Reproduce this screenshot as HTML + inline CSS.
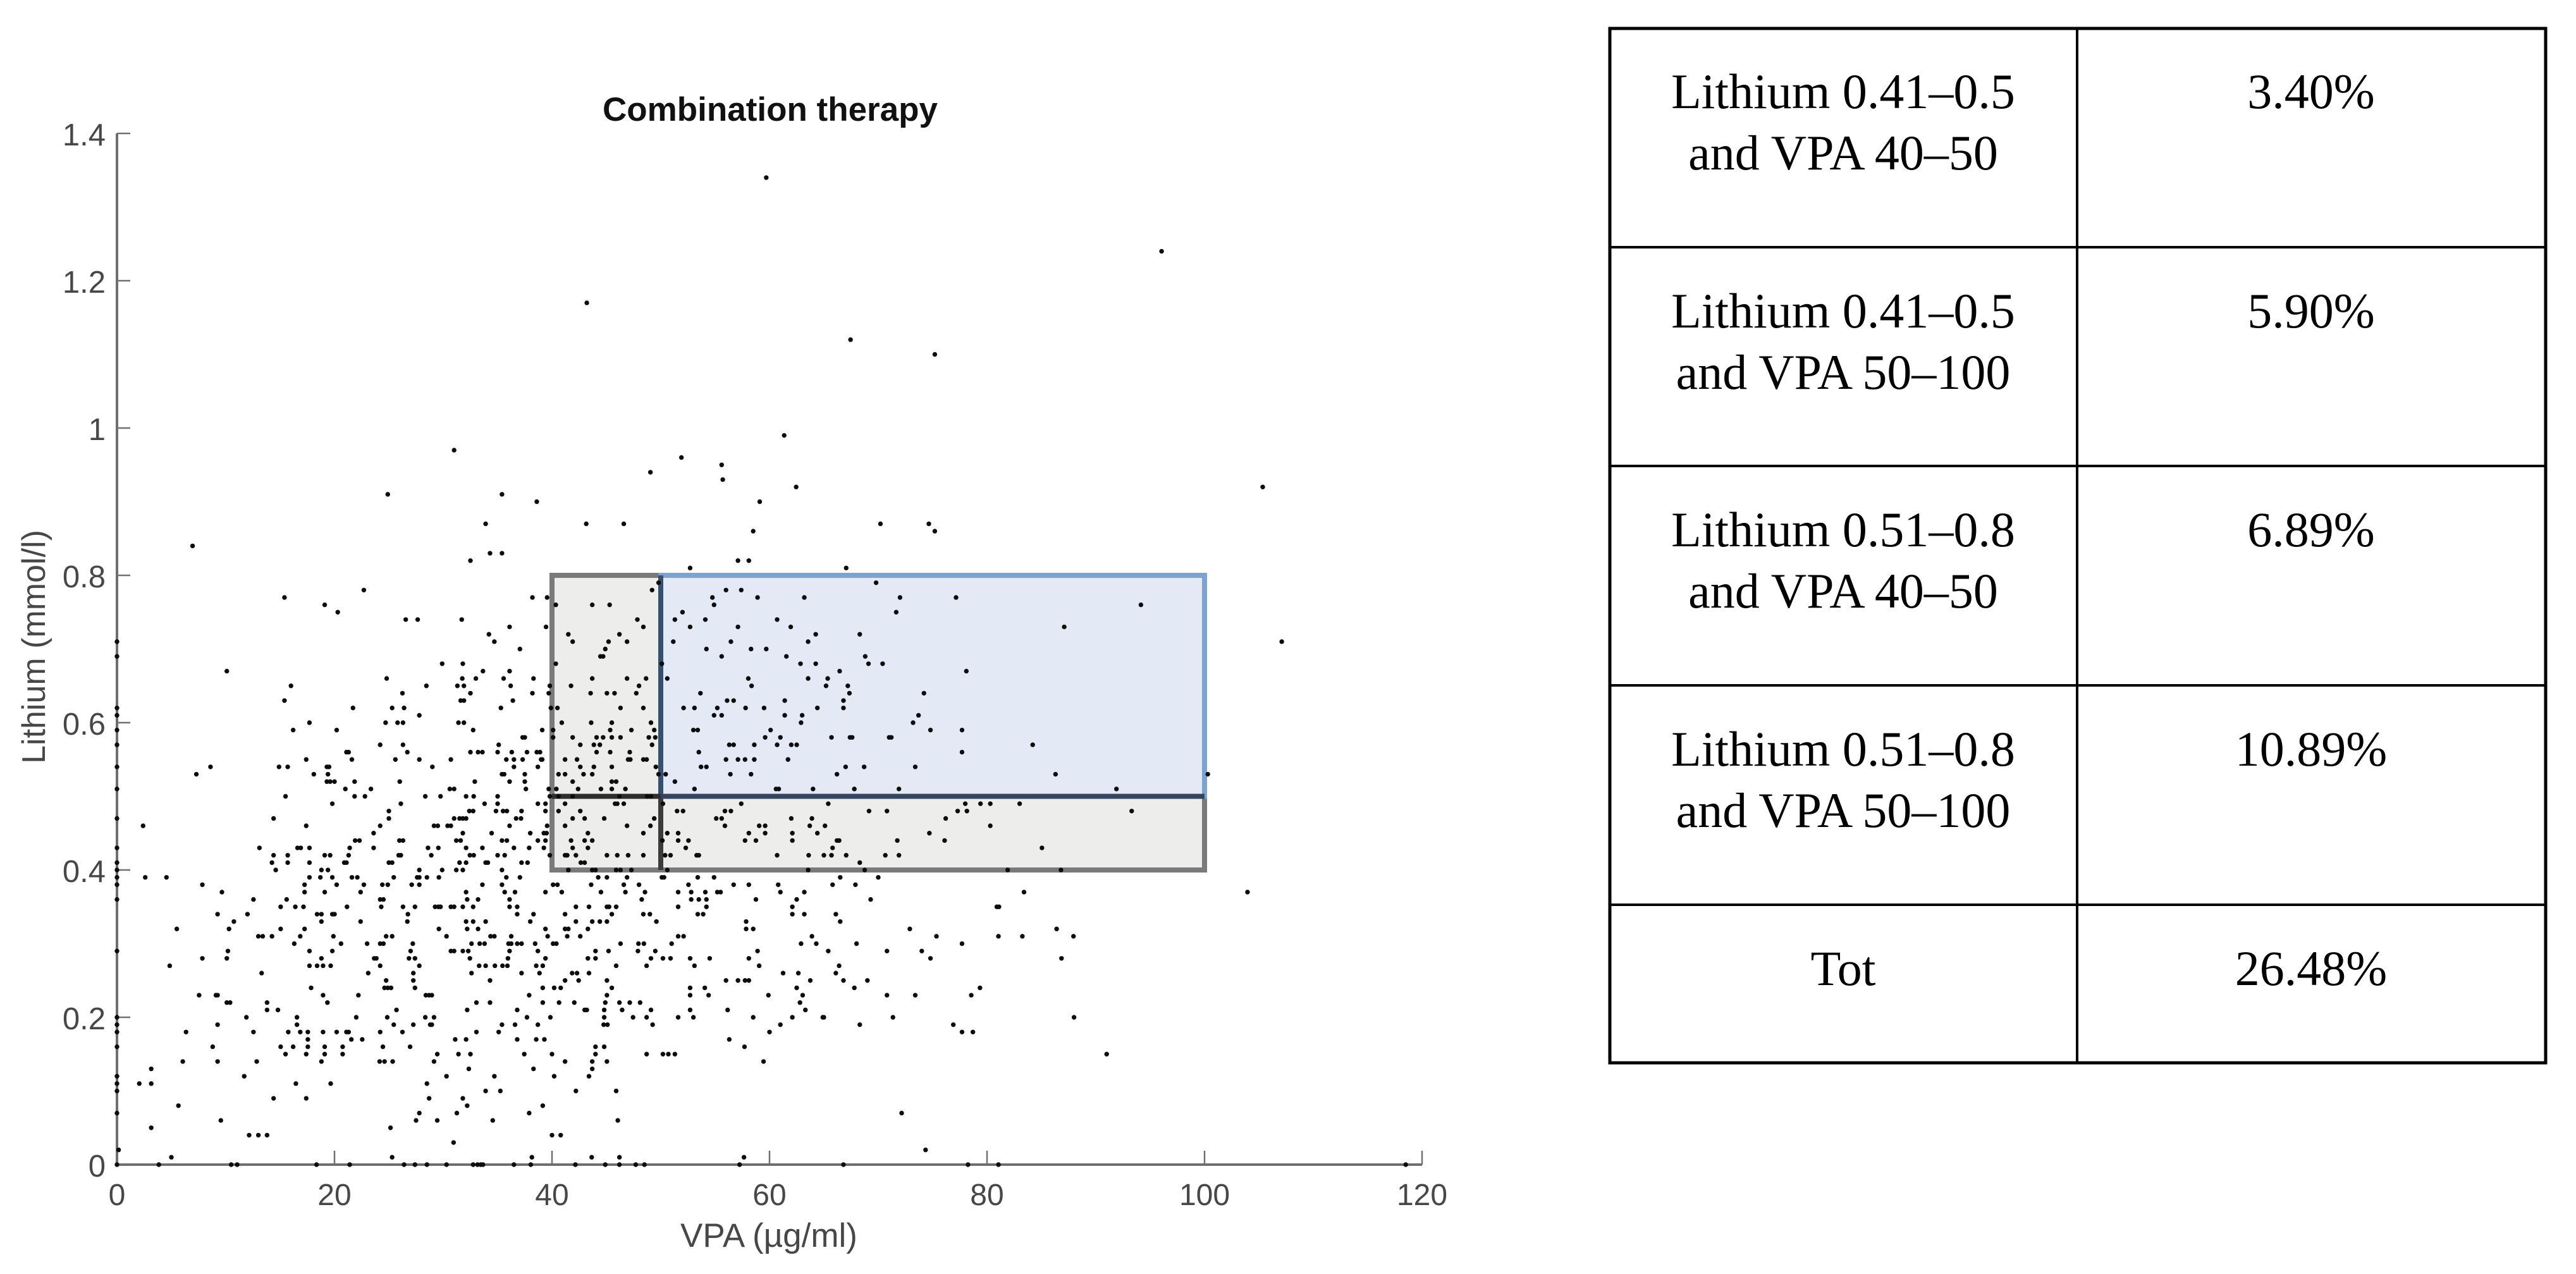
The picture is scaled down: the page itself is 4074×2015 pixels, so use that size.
<!DOCTYPE html>
<html lang="en">
<head>
<meta charset="utf-8">
<title>Combination therapy</title>
<style>
html,body{margin:0;padding:0;background:#fff;width:4074px;height:2015px;overflow:hidden}
svg{display:block}
.axis-text{font-family:"Liberation Sans",Arial,sans-serif;fill:#474747}
.table-text{font-family:"Liberation Serif","Times New Roman",serif;font-size:78px;fill:#000;text-anchor:middle}
</style>
</head>
<body>
<svg id="figure" xmlns="http://www.w3.org/2000/svg" width="4074" height="2015" viewBox="0 0 4074 2015">
  <g id="chart"></g>
  <g>
    <g stroke="#000" fill="none">
      <rect x="2546" y="45" width="1480" height="1636" stroke-width="5"/>
      <line x1="3285" y1="45" x2="3285" y2="1681" stroke-width="4"/>
      <line x1="2546" y1="391" x2="4026" y2="391" stroke-width="4"/>
      <line x1="2546" y1="737" x2="4026" y2="737" stroke-width="4"/>
      <line x1="2546" y1="1084" x2="4026" y2="1084" stroke-width="4"/>
      <line x1="2546" y1="1431" x2="4026" y2="1431" stroke-width="4"/>
    </g>
    <text class="table-text" x="2915" y="171">Lithium 0.41–0.5</text>
    <text class="table-text" x="2915" y="268">and VPA 40–50</text>
    <text class="table-text" x="3655" y="171">3.40%</text>
    <text class="table-text" x="2915" y="518">Lithium 0.41–0.5</text>
    <text class="table-text" x="2915" y="615">and VPA 50–100</text>
    <text class="table-text" x="3655" y="518">5.90%</text>
    <text class="table-text" x="2915" y="864">Lithium 0.51–0.8</text>
    <text class="table-text" x="2915" y="961">and VPA 40–50</text>
    <text class="table-text" x="3655" y="864">6.89%</text>
    <text class="table-text" x="2915" y="1211">Lithium 0.51–0.8</text>
    <text class="table-text" x="2915" y="1308">and VPA 50–100</text>
    <text class="table-text" x="3655" y="1211">10.89%</text>
    <text class="table-text" x="2915" y="1558">Tot</text>
    <text class="table-text" x="3655" y="1558">26.48%</text>
  </g>
</svg>
<script>
const xTicks = [0, 20, 40, 60, 80, 100, 120];
const yTicks = [0, 0.2, 0.4, 0.6, 0.8, 1, 1.2, 1.4];
const yTickLabels = ['0', '0.2', '0.4', '0.6', '0.8', '1', '1.2', '1.4'];
const greyRegion = [40, 100, 0.4, 0.8];
const blueRegion = [50, 100, 0.5, 0.8];
const lithiumLevels = [
 0,0.01,0.02,0.03,0.04,0.05,0.06,0.07,0.08,0.09,
 0.10,0.11,0.12,0.13,0.14,0.15,0.16,0.17,0.18,0.19,
 0.20,0.21,0.22,0.23,0.24,0.25,0.26,0.27,0.28,0.29,
 0.30,0.31,0.32,0.33,0.34,0.35,0.36,0.37,0.38,0.39,
 0.40,0.41,0.42,0.43,0.44,0.45,0.46,0.47,0.48,0.49,
 0.50,0.51,0.52,0.53,0.54,0.55,0.56,0.57,0.58,0.59,
 0.60,0.61,0.62,0.63,0.64,0.65,0.66,0.67,0.68,0.69,
 0.70,0.71,0.72,0.73,0.74,0.75,0.76,0.77,0.78,0.79,
 0.81,0.82,0.83,0.84,0.86,0.87,0.90,0.91,0.92,0.93,
 0.94,0.95,0.96,0.97,0.99,1.10,1.12,1.17,1.24,1.34
];
const vpaByLevel = [
 [0,3.85,10.5,11.05,18.35,21.4,26.4,27.4,28.5,30.3,32.75,33.15,33.45,33.65,36.5,38.05,42.15,44.9,46.2,47.7,48.5,57.25,66.8,78.25,81.05,118.5],
 [5,25.3,38.15,43.65,46.2,57.65],
 [0.15,74.35],
 [30.95],
 [12.15,13,13.8,40,40.8],
 [3.15,25.15],
 [9.55,27.5,29.45,34.55,46.05],
 [0,27.8,31.25,37.9,72.15],
 [5.65,32.2,39.15],
 [14.4,17.4,28.7,31.8],
 [0,33.9,35.25,42.2,45.9],
 [0,2.05,3.15,16.45,19.65,28.5],
 [0,11.7,30.3,34.7,40.2,43.4],
 [3.15,32.35,38.3,43.7],
 [6.05,9.25,12.85,18.8,24.15,24.6,25.35,29.15,41.2,43.7,45.05,59.45],
 [15.5,17.4,19.1,20.75,29.45,31.4,32.5,37.45,40,44,48.7,50.2,50.7,51.3,91],
 [0,8.8,15.05,16.2,17.55,19.1,20.75,24.45,26.95,44,44.8,57.7],
 [17.55,21.55,22.55,31.1,32.1,36.8,38.55,39.3,56.3],
 [0,6.35,12.55,15.75,16.85,17.55,18.95,20.2,21.1,21.3,24.2,26.25,33.05,35.1,60,77.7,78.7],
 [0,9.25,16.55,25.45,27.25,28.8,28.95,35.4,36.6,38.7,44.75,45.1,49.25,61,68.3,76.9],
 [0,11.9,16.55,22,24.85,28.35,29.15,37.7,39.85,44.8,47.45,48.7,51.6,53,58.5,62.1,64.9,65,71.35,88],
 [13.8,14.8,25.7,32.2,36.8,43,43.2,44.8,46.45,49.1,52.7,56.15,63.3],
 [10.1,10.4,13.8,19.35,33.05,34.3,39.15,40.65,42.05,44.9,46.2,47.15,48.1,62.8],
 [7.55,9.1,9.25,18.95,22.2,28.4,28.7,28.95,37.9,45.05,52.7,54.4,59.9,63.05,70.8,73.4,78.55],
 [17.85,24.6,24.9,25.2,27.4,39.15,40.2,40.8,45.5,52.7,54.05,62.5,67.8,79.35],
 [24.75,27.25,34.3,41.2,42.45,45.05,56,57.1,57.75,58.1,63.75,66.8,69],
 [13.3,23.1,27.25,32.6,37.2,38.85,41.85,42.3,43.4,61.25,62.65,66.1],
 [4.85,17.7,18.4,18.95,19.65,24.2,27.8,33.3,33.9,34.75,35.45,35.9,38.55,39.15,45.9,48.7,53.1,59.05,66.4],
 [7.85,10.1,18.8,23.65,23.85,26.85,27.4,32.45,35.95,39.4,43.3,44,49.1,50.2,50.9,52.7,54.5,58.1,74.8,86.85],
 [0,10.2,17.7,19.8,27,30.7,31,31.8,32.3,36.1,38.7,44,45.2,47.9,49.5,58.9,65.4,70.8,74],
 [16.3,20.6,23,24.2,24.5,27.2,32.6,33.35,33.8,36,36.25,36.8,37.2,38.45,40.1,40.4,46.3,47.95,48.45,51,62.9,64.3,68,77.7],
 [13,13.4,14.25,16.85,19.9,24.75,25.3,30.3,34.35,34.7,36.25,39.6,41.4,42.6,51.6,52.1,63.9,75.35,81.05,83.25,87.95],
 [5.5,10.3,15.05,17.25,29.6,32.2,33.2,39.4,41.2,41.5,43.3,57.85,58.5,72.9,86.4],
 [10.75,18.8,22.4,26.7,32.1,32.75,33.9,38,42.2,43.7,44.4,45.05,49.6,57.85,66.5],
 [9.25,12,18.4,18.8,19.8,20,26.75,36.8,38.3,41.2,45.5,48.4,49,53.4,53.9,62.1,63.2,66.1],
 [15.05,16.4,17.15,21.15,24.3,26.3,27.4,29.25,29.55,29.75,30.7,31,31.8,32.75,36.1,36.8,42.2,43.4,45.05,45.25,45.9,51.6,54.2,62.1,80.9,81.1],
 [0,12.55,15.6,24.2,24.5,32.2,33.2,36.1,48.25,52.8,53.5,54.2,58.75,62.5,69.3],
 [9.65,17.25,19.1,22.4,32.1,35.65,36.6,39.4,40.9,44.5,46.75,48.55,51.6,52.8,54.1,55.2,55.5,61,63.2,83.4,103.95],
 [0,7.85,17.25,20.2,22.7,24.4,24.9,27.1,27.8,33.6,35.4,40.1,40.5,43.6,46.6,48,52.55,56.7,58.1,60.8,65.8,67.9],
 [0,2.6,4.55,17.7,18.7,19.8,21.6,22.1,25.45,27.6,27.8,28.5,29.6,35.8,37.05,44.25,45.05,46.9,50.1,50.3,53.4,54.9,66.5,70],
 [0,14.6,18.8,19.4,27.8,29.9,31.2,31.8,35.4,41.5,43.7,44,45.9,46.3,47.3,50.6,63.55,68.75,81.9,86.8],
 [0,14.25,15.7,17.7,20.9,21.1,25,25.3,31.5,32.1,33.9,34.1,37.2,37.75,42.65,43,68.3],
 [14.4,15.7,19.1,19.6,21.3,25.9,26.1,28.9,32.45,32.8,35,35.65,39.8,41.2,41.4,42.2,45.05,46,47,48.4,50.4,50.9,53.3,53.5,60.7,63.6,65,65.7,67.05,70.65,71.9],
 [0,13.1,16.6,16.9,17.7,21.4,23.6,28.6,29.55,32.1,33.6,36.5,37.9,39.25,41.9,43.3,52.3,65.8,85.05],
 [21.9,22.3,25.97,26.3,31.2,31.6,35.4,35.85,38.7,39.4,41.75,43,43.7,50.15,51.6,52.55,57.75,58.75,62.1,66.2,66.4,71.75,76.1],
 [23.6,31.8,34.45,38,39.25,39.5,43.3,48.4,50.6,51.6,58.1,59.6,62.1,64.4,74.7],
 [2.4,17.4,24.2,29.15,29.5,30.4,30.7,36.1,39.55,41.2,46.9,49.05,55.9,59.05,59.6,63.7,65.1,80.3],
 [0,14.4,25,31,31.5,31.8,32.1,36.7,37.15,41.9,43,44.8,49.4,55.1,55.6,62,63.9,76.2],
 [25,32.4,32.75,34.85,35.5,35.85,37.2,39.4,40.6,42.6,51.5,52.05,55.9,56.45,69.15,70.8,77.3,78.15,93.3],
 [19.8,26.1,33.8,35,38.7,39.4,41.2,45.8,46,46.6,50.2,57.4,65.4,78,79.4,80.3,83],
 [15.5,21.85,22.8,28.35,29.75,32.1,32.8,35,39.8,40.6,41.9,46.2,48.75,49.1],
 [0,21,23.35,30.6,31,37.6,39.7,40.4,42.4,44.5,45.5,46.75,53.1,60.6,60.85,64,67.8,71.9,91.9],
 [19.3,19.6,20,21.85,26,32.9,36.1,37.5,41.9,45.5,45.9,51.3],
 [7.3,18.1,19.4,35.4,35.6,37.5,40.6,41.2,42.9,43.7,49.8,50.45,56.4,58.3,66.2,86.3,100.3],
 [0,8.6,14.9,15.7,19.3,19.5,29,36.5,38.7,42.6,43.85,45.5,49.55,53.7,54.2,67,68.7,73.4],
 [17.4,21.6,25.6,27.8,30.7,35.8,36.5,37.3,39,39.1,41.2,42.3,47,47.2,48.4,48.7,56,57.1,57.75,58.6,61.7],
 [21.1,21.3,26.7,32.5,33.2,33.6,35,36.3,37.7,38.6,38.9,44.1,45.35,47.15,53.5,77.7],
 [0,24.2,26.3,35.1,42.6,43.85,44.4,49.2,56.3,56.7,58.6,60.7,62,62.5,84.2],
 [37.3,37.5,40.1,41.9,44.1,44.7,45.5,46.3,48.9,49.5,59.6,61,65.7,67.4,67.6,71,71.2],
 [0,16.2,20.2,32.75,39.1,40.1,45.35,47.3,49.4,53,53.4,60.1,74.8,77.7],
 [17.7,24.7,25.8,26.3,31.4,31.9,40.9,43.6,45.5,49.1,62.9,73.2],
 [0,27.8,54.9,55.6,61.4,63,73.7],
 [0,21.7,25.3,26.4,35.3,39.9,40.5,46.3,48.4,52.1,53.1,55.2,57.8,59.5,64.4,66.8],
 [15.4,31.6,31.9,36.4,56.1,56.7,61.4,66.8],
 [26.25,32.5,38.2,39.7,43.55,45.05,45.75,47.75,53.65,67.35,74.2],
 [16,28.45,31.3,31.9,36.2,39.8,41.75,48,58.35,65.2,67.2],
 [24.8,31.75,33,35.55,38.3,43.7,46.9,48.65,50.6,58.05,63.55,65.35],
 [10.1,33.65,36.1,66.45,78.1],
 [29.9,31.8,40.35,50.1,62.85,64.25,69.1,70.4],
 [0,44.45,44.7,55.6,61.55,68.8],
 [37.05,44.9,54.2,58.3,59.7],
 [0,34.7,41.9,45.2,46.9,51.15,56.45,63.55,107.1],
 [34.2,41.5,46.2,64.25,68.3],
 [36.1,39.45,48.4,52.7,57.1,61.95,87.1],
 [26.55,27.65,31.7,47.85,51.3,54.1,60.7],
 [20.3,52,71.65],
 [19.1,40.35,43.7,45.3,54.9,94.15],
 [15.4,38.2,39.55,54.75,58.9,63.2,72,77.15],
 [22.7,49.2,56,57.4],
 [49.8,69.8],
 [52.7,67.05],
 [32.5,57.1,58.1],
 [34.3,35.4],
 [6.95],
 [58.5,75.2],
 [33.9,43.15,46.6,70.2,74.65],
 [38.6,59.1],
 [24.9,35.4],
 [62.45,105.35],
 [55.7],
 [49.05],
 [55.6],
 [51.9],
 [31],
 [61.35],
 [75.2],
 [67.45],
 [43.2],
 [96.05],
 [59.7]
];

const NS = 'http://www.w3.org/2000/svg';
const chart = document.getElementById('chart');
const xScale = function (v) { return 185 + v * 17.2; };
const yScale = function (v) { return 1842 - v * 1165; };

function make(tag, attrs, parent) {
  const el = document.createElementNS(NS, tag);
  Object.keys(attrs).forEach(function (k) { el.setAttribute(k, attrs[k]); });
  (parent || chart).appendChild(el);
  return el;
}

/* threshold regions */
const greyRect = make('rect', {
  x: xScale(greyRegion[0]), y: yScale(greyRegion[3]),
  width: xScale(greyRegion[1]) - xScale(greyRegion[0]),
  height: yScale(greyRegion[2]) - yScale(greyRegion[3]),
  fill: '#ededec', stroke: '#7a7a7a', 'stroke-width': 8
});



const blueRect = make('rect', {
  x: xScale(blueRegion[0]), y: yScale(blueRegion[3]),
  width: xScale(blueRegion[1]) - xScale(blueRegion[0]),
  height: yScale(blueRegion[2]) - yScale(blueRegion[3]),
  fill: '#e3eaf5', stroke: '#7ea3d1', 'stroke-width': 8
});



const dividerLow = make('line', {
  x1: xScale(blueRegion[0]), x2: xScale(blueRegion[0]),
  y1: yScale(greyRegion[2]), y2: yScale(blueRegion[2]),
  stroke: '#3c3c3c', 'stroke-width': 8
});



const dividerHigh = make('line', {
  x1: xScale(blueRegion[0]), x2: xScale(blueRegion[0]),
  y1: yScale(blueRegion[3]), y2: yScale(blueRegion[2]),
  stroke: '#38506f', 'stroke-width': 8
});



const lineLeft = make('line', {
  x1: xScale(greyRegion[0]), x2: xScale(blueRegion[0]),
  y1: yScale(blueRegion[2]), y2: yScale(blueRegion[2]),
  stroke: '#2e2e2e', 'stroke-width': 8
});



const lineRight = make('line', {
  x1: xScale(blueRegion[0]), x2: xScale(blueRegion[1]),
  y1: yScale(blueRegion[2]), y2: yScale(blueRegion[2]),
  stroke: '#35445f', 'stroke-width': 8
});



/* axes */
const xAxisLine = make('line', {
  x1: xScale(0), x2: xScale(120), y1: yScale(0), y2: yScale(0),
  stroke: '#6e6e6e', 'stroke-width': 4
});



const yAxisLine = make('line', {
  x1: xScale(0), x2: xScale(0), y1: yScale(0) + 2, y2: yScale(1.4),
  stroke: '#6e6e6e', 'stroke-width': 4
});



xTicks.forEach(function (t) {
  const tick = make('line', {
    x1: xScale(t), x2: xScale(t), y1: yScale(0), y2: yScale(0) - 22,
    stroke: '#707070', 'stroke-width': 2.5
  });
  
  
  const label = make('text', {
    x: xScale(t), y: 1906, 'text-anchor': 'middle', 'font-size': 48, 'class': 'axis-text'
  });
  label.textContent = String(t);
  
  
});

yTicks.forEach(function (t, i) {
  const tick = make('line', {
    x1: xScale(0), x2: xScale(0) + 21, y1: yScale(t), y2: yScale(t),
    stroke: '#707070', 'stroke-width': 2.5
  });
  
  
  const label = make('text', {
    x: 167, y: yScale(t) + 19, 'text-anchor': 'end', 'font-size': 49, 'class': 'axis-text'
  });
  label.textContent = yTickLabels[i];
  
  
});

/* scatter points */
const pointsGroup = make('g', { fill: '#0d0d0d' });


lithiumLevels.forEach(function (level, i) {
  vpaByLevel[i].forEach(function (vpa) {
    const dot = make('circle', { cx: xScale(vpa), cy: yScale(level), r: 3.7 }, pointsGroup);
    
    
  });
});

/* titles */
const chartTitle = make('text', {
  x: 1218, y: 191, 'text-anchor': 'middle', 'font-size': 53, 'font-weight': 700,
  'font-family': '"Liberation Sans",Arial,sans-serif', fill: '#111'
});
chartTitle.textContent = 'Combination therapy';



const xTitle = make('text', {
  x: 1216, y: 1972, 'text-anchor': 'middle', 'font-size': 53, 'class': 'axis-text'
});
xTitle.textContent = 'VPA (µg/ml)';



const yTitle = make('text', {
  x: 0, y: 0, 'text-anchor': 'middle', 'font-size': 52, 'class': 'axis-text',
  transform: 'translate(71,1023) rotate(-90)'
});
yTitle.textContent = 'Lithium (mmol/l)';


</script>
</body>
</html>
